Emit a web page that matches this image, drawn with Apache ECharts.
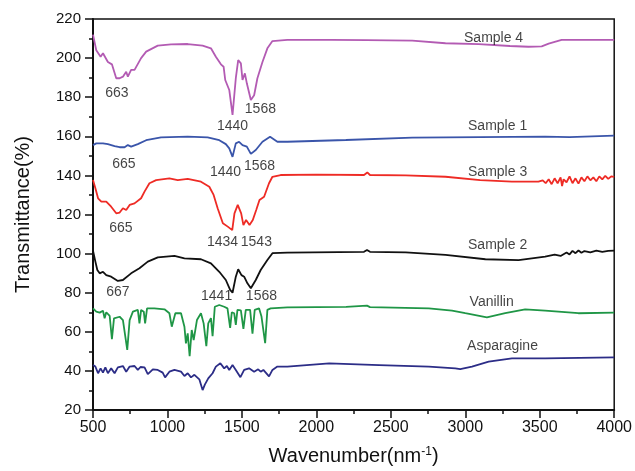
<!DOCTYPE html>
<html><head><meta charset="utf-8">
<script src="https://cdn.jsdelivr.net/npm/echarts@6/dist/echarts.min.js"></script>
<style>html,body{margin:0;padding:0;background:#fff}#c{width:635px;height:471px}</style>
</head><body><div id="c"></div>
<script>
// ---- data (wavenumber, transmittance %) ----
const sample4 = [[500,212],[522,204],[551,200.7],[567,202.5],[600,198],[627,196.8],[656,189.7],[679,189.7],[701,190.5],[723,193],[734,190.5],[756,194],[779,194],[823,200],[857,203.3],[935,206.4],[1024,207],[1136,207.2],[1236,206.4],[1292,205],[1325,200.7],[1359,196.8],[1377,195.6],[1388,188.8],[1415,183.7],[1437,171],[1459,189.7],[1475,199],[1493,197.3],[1504,188.8],[1520,192.2],[1533,187.1],[1560,178.6],[1582,181],[1604,189.7],[1638,198],[1671,205],[1705,208.7],[1805,209.3],[2100,209.3],[2340,209.2],[2644,208.9],[2867,207.6],[3090,207.1],[3300,206.2],[3424,205.8],[3513,206],[3560,207.4],[3647,209.3],[3800,209.3],[4000,209.3]];
const sample1 = [[500,155.5],[522,156.4],[567,156.4],[600,156],[645,155],[679,154.4],[712,154.4],[734,155.5],[756,154.7],[801,156],[857,158],[957,159.5],[1136,159.8],[1270,159.5],[1348,158],[1392,156],[1415,153.8],[1437,149.5],[1459,156.4],[1481,157.2],[1504,155.5],[1533,154.7],[1560,151],[1593,153],[1638,157.2],[1689,159.8],[1738,157.2],[1805,157.2],[2198,158.1],[2644,159.3],[3100,159.6],[3536,159.8],[3700,159.6],[4000,160.3]];
const sample3 = [[500,137.6],[516,133.4],[534,128.3],[556,126.6],[589,126.6],[622,124],[656,120.6],[679,121],[701,123.2],[723,122.3],[746,124.9],[779,125.7],[823,128.3],[846,131.7],[879,136],[924,137.6],[1013,138.5],[1069,137.6],[1136,138.2],[1225,136.8],[1281,134.2],[1310,130],[1337,123.2],[1372,115.5],[1405,113.8],[1435,112],[1450,120.6],[1472,124.9],[1495,120.6],[1510,114.6],[1528,117.2],[1551,114.6],[1573,117.2],[1596,122.3],[1618,127.4],[1649,129.1],[1682,136],[1705,139.3],[1760,140.2],[2000,140.4],[2320,140.2],[2342,141.5],[2360,140.2],[2600,140],[2867,139.3],[3100,137.6],[3313,136.8],[3491,136.8],[3520,137.5],[3540,136],[3560,138],[3580,135.5],[3600,138.5],[3620,136],[3640,139],[3650,134.5],[3660,138],[3680,136.5],[3700,139.5],[3720,136],[3740,138.5],[3760,135.8],[3780,139],[3800,137],[3820,139.5],[3840,137.5],[3860,139],[3880,137],[3900,139.5],[3920,138],[3940,139.8],[3960,138.2],[3980,139.5],[4000,139.3]];
const sample2 = [[500,101.5],[516,95.9],[529,91.6],[545,89.9],[567,90.7],[589,89],[622,88.2],[667,86],[701,86.5],[756,89.9],[812,92.5],[868,95.9],[935,98.1],[1047,98.8],[1114,97.6],[1225,97.1],[1292,95],[1348,90.7],[1392,86.5],[1421,81.4],[1437,80],[1459,88.2],[1475,92],[1497,89],[1515,88.2],[1537,84.8],[1560,82.3],[1593,86.5],[1626,91.6],[1671,96.7],[1705,100.2],[1805,100.5],[2320,100.9],[2340,101.8],[2360,100.9],[2600,100.6],[2867,99.3],[3135,97.1],[3358,96.7],[3536,98.4],[3600,99.5],[3640,98.8],[3680,100.6],[3700,99.6],[3720,101.4],[3740,100.2],[3760,101.6],[3780,100.4],[3800,101.3],[3840,100.6],[3880,101.5],[3920,100.9],[3960,101.4],[4000,101.5]];
const vanillin = [[500,72],[522,70.3],[545,69.8],[567,70.8],[578,66.9],[589,70],[612,68.1],[627,56.2],[641,66.9],[679,67.7],[701,66],[730,50.7],[746,66],[768,70.3],[801,71.2],[812,64.3],[823,71.2],[841,70.3],[850,64.3],[863,72],[912,72],[980,71.5],[1013,69.5],[1029,62.6],[1053,69.5],[1091,69.5],[1114,62.6],[1124,54.1],[1136,59.2],[1149,47.5],[1163,60.9],[1176,55.8],[1198,66],[1225,69.5],[1243,64.3],[1261,52.6],[1274,64.3],[1292,67],[1303,57.8],[1318,72.8],[1348,73.7],[1381,72.8],[1403,72],[1421,62],[1432,70],[1448,69.5],[1459,63.5],[1470,71.2],[1493,71],[1510,61.5],[1526,71.2],[1555,71.2],[1571,59],[1586,71.2],[1615,72],[1631,68],[1656,54.2],[1671,71.2],[1693,72],[1805,72.5],[2200,72.7],[2340,73.4],[2360,72.6],[2755,72],[2911,70.8],[3000,69.5],[3145,67.4],[3268,69.5],[3402,71.5],[3536,70.8],[3759,69.5],[4000,69.8]];
const asparagine = [[500,43],[516,42.2],[534,38.8],[551,41.3],[567,39.1],[583,41.8],[600,38.8],[622,41.3],[645,38.8],[667,41.8],[701,42.5],[723,39.6],[746,42.2],[779,42.5],[801,40.5],[819,42],[846,41.8],[868,38.3],[879,37.4],[902,40.8],[935,40.5],[968,39.1],[984,36.7],[1013,39.6],[1047,40.5],[1091,39.6],[1114,37.4],[1136,38.8],[1158,36.7],[1181,38],[1214,35.7],[1236,30.2],[1251,33],[1274,36.2],[1303,38.8],[1325,42.2],[1355,43.9],[1381,41.3],[1399,42.5],[1415,40.5],[1437,43],[1459,40.5],[1490,36.8],[1515,40.5],[1548,41.3],[1582,39.6],[1609,40.8],[1626,39.6],[1644,40.5],[1682,37.2],[1705,40.5],[1738,42.2],[1805,42.2],[2086,43.8],[2421,43],[2755,42.2],[2933,41.3],[2966,40.9],[3045,42.2],[3157,44.7],[3313,46.4],[3536,46.4],[4000,46.9]];

const seriesNames = ['Sample 4','Sample 1','Sample 3','Sample 2','Vanillin','Asparagine'];
const seriesColors = ['#B35BB3','#3A55AA','#EE2B25','#111111','#1F9646','#2C2D87'];
const xTicks = [500,1000,1500,2000,2500,3000,3500,4000];
const yTicks = [20,40,60,80,100,120,140,160,180,200,220];

// annotations: [text, wavenumber, transmittance]
const nameLabels = [['Sample 4',3190,210.3],['Sample 1',3217,165.3],['Sample 3',3217,141.7],['Sample 2',3217,104.4],['Vanillin',3177,75.2],['Asparagine',3250,52.7]];
const peakLabels = [['663',661,182.1],['1440',1437,165.3],['1568',1624,174],['665',707,145.8],['1440',1390,141.7],['1568',1618,144.8],['665',687,113.1],['1434',1370,105.9],['1543',1597,105.9],['667',667,80.4],['1441',1330,78.3],['1568',1631,78.3]];

const FONT = '"Liberation Sans", Arial, sans-serif';
const allData = [sample4, sample1, sample3, sample2, vanillin, asparagine];

const lineSeries = allData.map((d,i)=>({
  name: seriesNames[i], type:'line', data:d, showSymbol:false, symbol:'none',
  lineStyle:{color:seriesColors[i], width:1.8}, animation:false, z:3
}));

function labelSeries(list, size){
  return {
    type:'scatter', symbolSize:0, silent:true, animation:false, z:5,
    data: list.map(a=>({value:[a[1],a[2]], label:{formatter:a[0]}})),
    label:{show:true, position:'inside', color:'#111', fontSize:size, fontFamily:FONT}
  };
}

const chart = echarts.init(document.getElementById('c'), null, {renderer:'canvas'});
chart.setOption({
  backgroundColor:'#fff',
  animation:false,
  grid:{left:93, right:19, top:19, bottom:61, show:true, borderColor:'#111', borderWidth:1.5, backgroundColor:'transparent'},
  xAxis:{
    type:'value', min:xTicks[0], max:xTicks[xTicks.length-1], interval:500,
    name:'Wavenumber(nm{sup|-1})', nameLocation:'middle', nameGap:36,
    nameTextStyle:{fontSize:20, color:'#111', fontFamily:FONT, rich:{sup:{fontSize:12, verticalAlign:'top', color:'#111', fontFamily:FONT}}},
    axisLine:{show:true, lineStyle:{color:'#111', width:2}},
    axisTick:{show:true, length:8, lineStyle:{color:'#111', width:1.5}},
    minorTick:{show:true, splitNumber:2, length:4, lineStyle:{color:'#111', width:1.5}},
    axisLabel:{fontSize:16, color:'#111', fontFamily:FONT, margin:10, formatter:v=>String(v)},
    splitLine:{show:false}
  },
  yAxis:{
    type:'value', min:yTicks[0], max:yTicks[yTicks.length-1], interval:20,
    name:'Transmittance(%)', nameLocation:'middle', nameGap:60, nameRotate:90,
    nameTextStyle:{fontSize:20, color:'#111', fontFamily:FONT},
    axisLine:{show:true, lineStyle:{color:'#111', width:2}},
    axisTick:{show:true, length:8, lineStyle:{color:'#111', width:1.5}},
    minorTick:{show:true, splitNumber:2, length:4, lineStyle:{color:'#111', width:1.5}},
    axisLabel:{fontSize:15, color:'#111', fontFamily:FONT, margin:12, formatter:v=>String(v)},
    splitLine:{show:false}
  },
  series: lineSeries.concat([labelSeries(nameLabels,14), labelSeries(peakLabels,14)])
});
</script></body></html>
